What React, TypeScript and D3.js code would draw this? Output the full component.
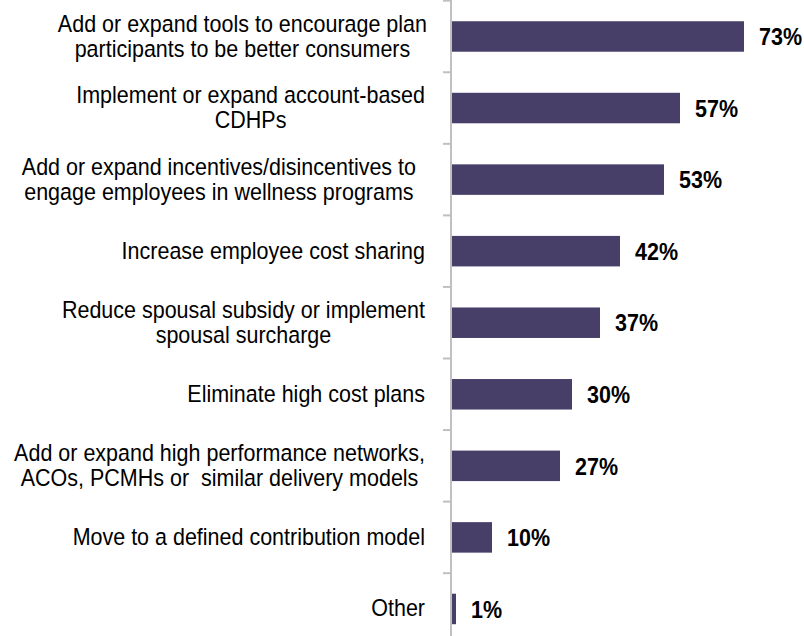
import React, { useEffect, useRef } from 'react';
import * as d3 from 'd3';

// categories as shown, top to bottom (lines split as in the source)
const categories: string[][] = [
  ['Add or expand tools to encourage plan', 'participants to be better consumers'],
  ['Implement or expand account-based', 'CDHPs'],
  ['Add or expand incentives/disincentives to', 'engage employees in wellness programs'],
  ['Increase employee cost sharing'],
  ['Reduce spousal subsidy or implement', 'spousal surcharge'],
  ['Eliminate high cost plans'],
  ['Add or expand high performance networks,', 'ACOs, PCMHs or  similar delivery models'],
  ['Move to a defined contribution model'],
  ['Other'],
];
const values: number[] = [73, 57, 53, 42, 37, 30, 27, 10, 1];

const W = 804;
const H = 636;

const App: React.FC = () => {
  const svgRef = useRef<SVGSVGElement>(null);

  useEffect(() => {
    if (!svgRef.current) return;
    const svg = d3.select(svgRef.current);
    svg.selectAll('*').remove();

    const axisX = 451;
    const barColor = '#483f69';
    const stretch = 1.12; // source text is a little taller than plain Arial
    // right edge of each label block (source text boxes don't line up exactly)
    const labelRight = (i: number) => (i === 0 ? 427 : i === 2 ? 416 : 425);

    const keys = categories.map((_, i) => String(i));
    const y = d3.scaleBand<string>().domain(keys).range([0.7, 0.7 + 9 * 71.56]).padding(0);
    const x = d3.scaleLinear().domain([0, 100]).range([axisX + 1, axisX + 401]);
    const barH = 30.5;
    const mid = (i: number) => y(String(i))! + y.bandwidth() / 2;
    const squash = (cy: number) => `translate(0,${cy}) scale(1,${stretch}) translate(0,${-cy})`;

    // bars
    svg
      .append('g')
      .selectAll('rect')
      .data(values)
      .join('rect')
      .attr('x', x(0))
      .attr('y', (_, i) => mid(i) - barH / 2)
      .attr('width', (d) => x(d) - x(0))
      .attr('height', barH)
      .attr('fill', barColor);

    // value labels
    svg
      .append('g')
      .selectAll('text')
      .data(values)
      .join('text')
      .attr('transform', (_, i) => squash(mid(i)))
      .attr('x', (d) => x(d) + 15)
      .attr('y', (_, i) => mid(i))
      .attr('dy', '0.36em')
      .style('font-family', '"Liberation Sans", Arial, sans-serif')
      .style('font-size', '21.5px')
      .style('font-weight', 'bold')
      .style('fill', '#000')
      .text((d) => `${d}%`);

    // axis line + ticks at band edges
    const axis = svg.append('g');
    axis
      .append('line')
      .attr('x1', axisX)
      .attr('x2', axisX)
      .attr('y1', 0)
      .attr('y2', H)
      .attr('stroke', '#c0c0c0')
      .attr('stroke-width', 2);
    const edges = keys.map((k) => y(k)!);
    axis
      .selectAll('line.tick')
      .data(edges)
      .join('line')
      .attr('class', 'tick')
      .attr('x1', axisX - 8)
      .attr('x2', axisX)
      .attr('y1', (d) => d)
      .attr('y2', (d) => d)
      .attr('stroke', '#c0c0c0')
      .attr('stroke-width', 2);

    // category labels: lines centred within a right-aligned block
    const lineH = 25;
    const labels = svg.append('g');
    categories.forEach((lines, i) => {
      const cy = mid(i);
      const t = labels
        .append('text')
        .attr('transform', squash(cy))
        .style('font-family', '"Liberation Sans", Arial, sans-serif')
        .style('font-size', '21.5px')
        .style('fill', '#000')
        .style('white-space', 'pre')
        .attr('text-anchor', 'middle');
      const spans = lines.map((ln, j) =>
        t
          .append('tspan')
          .attr('y', cy + ((j - (lines.length - 1) / 2) * lineH) / stretch - 1)
          .attr('dy', '0.36em')
          .text(ln),
      );
      const widest = d3.max(spans, (s) => (s.node() as SVGTSpanElement).getComputedTextLength()) || 0;
      spans.forEach((s) => s.attr('x', labelRight(i) - widest / 2));
    });
  }, []);

  return (
    <svg
      ref={svgRef}
      width={W}
      height={H}
      style={{ position: 'absolute', left: 0, top: 0, background: '#fff' }}
    />
  );
};

export default App;
